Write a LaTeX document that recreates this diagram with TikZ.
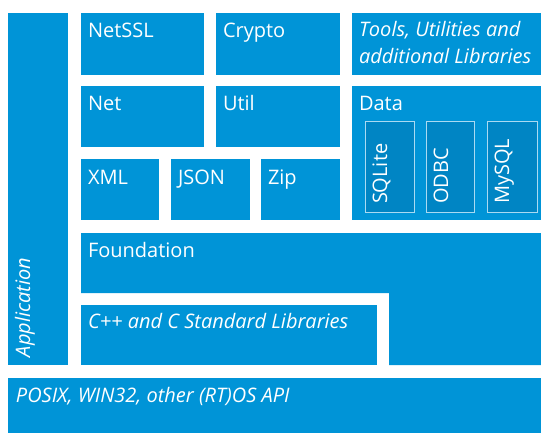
\documentclass[tikz,border=0pt]{standalone}
\usepackage{fontspec}
\setmainfont{Open Sans}
\usetikzlibrary{calc}
\definecolor{pocoblue}{RGB}{0,148,215}
\definecolor{subblue}{RGB}{0,133,196}
\definecolor{subedge}{RGB}{170,218,242}
\tikzset{
  blk/.style={fill=pocoblue, draw=none, inner sep=0pt, outer sep=0pt, anchor=north west},
  subblk/.style={fill=subblue, draw=subedge, line width=1pt, inner sep=0pt, outer sep=0pt, anchor=north west},
  lbl/.style={text=white, inner sep=0pt, outer sep=0pt, font=\fontsize{20}{27}\selectfont},
  ilbl/.style={lbl, font=\fontsize{20}{27}\selectfont\itshape},
}
\begin{document}
\begin{tikzpicture}[x=1pt,y=-1pt]
\useasboundingbox (0,0) rectangle (541,433);
% Application
\node[blk, minimum width=60, minimum height=352] (app) at (8,13) {};
\node[ilbl, rotate=90, anchor=base west] (appt) at (30,357) {Application};
% Row 1
\node[blk, minimum width=123, minimum height=62] (netssl) at (81,13) {};
\node[lbl, anchor=base west] (netsslt) at ($(netssl.north west)+(7,25)$) {NetSSL};
\node[blk, minimum width=124, minimum height=62] (crypto) at (216,13) {};
\node[lbl, anchor=base west] (cryptot) at ($(crypto.north west)+(7,25)$) {Crypto};
\node[blk, minimum width=189, minimum height=62] (tools) at (352,13) {};
\node[ilbl, anchor=base west] (toolst) at ($(tools.north west)+(7,24)$) {Tools, Utilities and};
\node[ilbl, anchor=base west] (toolst2) at ($(tools.north west)+(7,51)$) {additional Libraries};
% Row 2
\node[blk, minimum width=123, minimum height=61] (net) at (81,86) {};
\node[lbl, anchor=base west] (nett) at ($(net.north west)+(7,25)$) {Net};
\node[blk, minimum width=124, minimum height=61] (util) at (216,86) {};
\node[lbl, anchor=base west] (utilt) at ($(util.north west)+(7,25)$) {Util};
\node[blk, minimum width=189, minimum height=134] (data) at (352,86) {};
\node[lbl, anchor=base west] (datat) at ($(data.north west)+(7,25)$) {Data};
% Data sub-blocks
\node[subblk, minimum width=49, minimum height=90] (sqlite) at (365,122) {};
\node[lbl, rotate=90, anchor=base west] (sqlitet) at ($(sqlite.south west)+(22,-8)$) {SQLite};
\node[subblk, minimum width=48, minimum height=90] (odbc) at (426,122) {};
\node[lbl, rotate=90, anchor=base west] (odbct) at ($(odbc.south west)+(22,-8)$) {ODBC};
\node[subblk, minimum width=50, minimum height=90] (mysql) at (487,122) {};
\node[lbl, rotate=90, anchor=base west] (mysqlt) at ($(mysql.south west)+(22,-8)$) {MySQL};
% Row 3
\node[blk, minimum width=78, minimum height=61] (xml) at (81,159) {};
\node[lbl, anchor=base west] (xmlt) at ($(xml.north west)+(7,25)$) {XML};
\node[blk, minimum width=79, minimum height=61] (json) at (171,159) {};
\node[lbl, anchor=base west] (jsont) at ($(json.north west)+(7,25)$) {JSON};
\node[blk, minimum width=79, minimum height=61] (zip) at (261,159) {};
\node[lbl, anchor=base west] (zipt) at ($(zip.north west)+(7,25)$) {Zip};
% Foundation (inverted L)
\fill[pocoblue] (81,233) -- (541,233) -- (541,365) -- (389,365) -- (389,293) -- (81,293) -- cycle;
\coordinate (found) at (81,233);
\node[lbl, anchor=base west] (foundt) at ($(found)+(7,24)$) {Foundation};
% C++ std libs
\node[blk, minimum width=296, minimum height=60] (cpp) at (81,305) {};
\node[ilbl, anchor=base west] (cppt) at ($(cpp.north west)+(7,23)$) {C++ and C Standard Libraries};
% OS API
\node[blk, minimum width=533, minimum height=55] (os) at (8,378) {};
\node[ilbl, anchor=base west] (ost) at ($(os.north west)+(8,24)$) {POSIX, WIN32, other (RT)OS API};
\end{tikzpicture}
\end{document}
